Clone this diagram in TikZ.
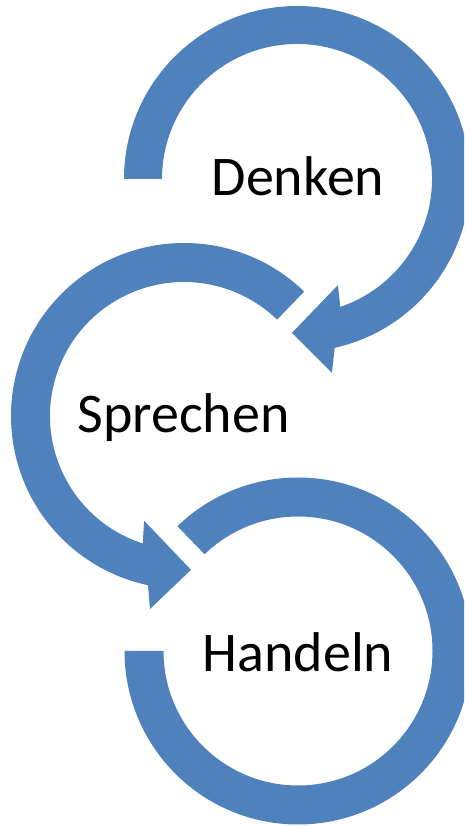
\documentclass[tikz,border=0pt]{standalone}
\usepackage{fontspec}
\setmainfont{Carlito}
\definecolor{arrowblue}{RGB}{79,129,189}
\tikzset{
  arrowfill/.style={fill=arrowblue, draw=none},
  label/.style={font=\fontsize{56}{60}\selectfont, text=black, anchor=base, inner sep=0pt}
}
\begin{document}
\begin{tikzpicture}[x=1pt,y=1pt]
\clip (0,0) rectangle (464,826);
\useasboundingbox (0,0) rectangle (464,826);
\coordinate (T) at (297,647);
\coordinate (M) at (184,410);
\coordinate (B) at (298,175);
% top arrow (Denken)
\begin{scope}[shift={(T)}]
\fill[arrowfill] (180:173) arc[start angle=180, end angle=-77.4, radius=173]
  -- (-79.8:197) -- (-91.9:154) -- (-68.9:113.7) -- (-71.3:135)
  arc[start angle=-71.3, end angle=180, radius=135] -- cycle;
\end{scope}
% middle arrow (Sprechen)
\begin{scope}[shift={(M)}]
\fill[arrowfill] (46:173) arc[start angle=46, end angle=258, radius=173]
  -- (260:196) -- (272.6:154) -- (249.1:112) -- (252.1:134)
  arc[start angle=252.1, end angle=46, radius=134] -- cycle;
\end{scope}
% bottom arc (Handeln)
\begin{scope}[shift={(B)}]
\fill[arrowfill] (134:173.5) arc[start angle=134, end angle=-180, radius=173.5]
  -- (180:134.5) arc[start angle=-180, end angle=134, radius=134.5] -- cycle;
\end{scope}
\node[label] (denken) at (298,630) {Denken};
\node[label] (sprechen) at (183.5,393) {Sprechen};
\node[label] (handeln) at (298,154) {Handeln};
\end{tikzpicture}
\end{document}
